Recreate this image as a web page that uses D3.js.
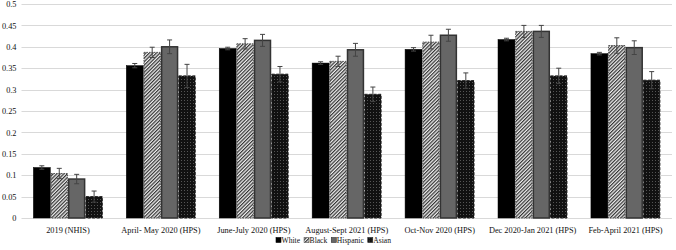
<!DOCTYPE html>
<html><head><meta charset="utf-8">
<script src="https://cdn.jsdelivr.net/npm/d3@7"></script>
<style>body{margin:0;background:#fff}svg{display:block}text{font-family:"Liberation Serif","Times New Roman",serif}</style>
</head><body><svg id="c" width="676" height="250"></svg>
<script>
const categories = ["2019 (NHIS)","April- May 2020 (HPS)","June-July 2020 (HPS)","August-Sept 2021 (HPS)","Oct-Nov 2020 (HPS)","Dec 2020-Jan 2021 (HPS)","Feb-April 2021 (HPS)"];
const seriesNames = ["White","Black","Hispanic","Asian"];
const white    = [0.118,0.356,0.396,0.362,0.394,0.417,0.384];
const black    = [0.104,0.387,0.407,0.366,0.411,0.436,0.403];
const hispanic = [0.091,0.400,0.415,0.393,0.427,0.436,0.398];
const asian    = [0.050,0.332,0.336,0.289,0.321,0.332,0.322];
const whiteErr    = [0.004,0.005,0.003,0.003,0.004,0.003,0.003];
const blackErr    = [0.012,0.012,0.012,0.012,0.016,0.014,0.018];
const hispanicErr = [0.011,0.016,0.014,0.015,0.014,0.014,0.016];
const asianErr    = [0.013,0.027,0.018,0.017,0.018,0.018,0.020];
const yTicks = [0,0.05,0.1,0.15,0.2,0.25,0.3,0.35,0.4,0.45,0.5];

const values = [white,black,hispanic,asian];
const errs = [whiteErr,blackErr,hispanicErr,asianErr];

const svg = d3.select("#c");
const defs = svg.append("defs");
const ph = defs.append("pattern").attr("id","hatch").attr("patternUnits","userSpaceOnUse").attr("width",2.5).attr("height",2.5).attr("patternTransform","rotate(45)");
ph.append("rect").attr("width",2.5).attr("height",2.5).attr("fill","#eee");
ph.append("rect").attr("width",1.2).attr("height",2.5).attr("fill","#333");
const pa = defs.append("pattern").attr("id","dots").attr("patternUnits","userSpaceOnUse").attr("width",3).attr("height",3);
pa.append("rect").attr("width",3).attr("height",3).attr("fill","#111");
pa.append("rect").attr("x",1).attr("y",1).attr("width",1).attr("height",1).attr("fill","#555");

const fills = ["#000","url(#hatch)","#666","url(#dots)"];
const strokes = ["#000","#555","#333","#222"];
const dashes = [null,"1.5,1",null,"3,1.5"];
const sw = [0.5,1,1.5,1];

const x = d3.scaleBand().domain(categories).range([21.5,672]).paddingInner(0.25).paddingOuter(0.125);
const xs = d3.scaleBand().domain(seriesNames).range([0,x.bandwidth()]);
const y = d3.scaleLinear().domain([0,0.5]).range([218,4]);

svg.append("g").selectAll("line").data(yTicks).join("line")
  .attr("x1",21.5).attr("x2",672).attr("y1",d=>Math.round(y(d))+0.5).attr("y2",d=>Math.round(y(d))+0.5)
  .attr("stroke","#d9d9d9").attr("stroke-width",1);

const ya = svg.append("g").attr("transform","translate(16.5,0)")
  .call(d3.axisLeft(y).tickValues(yTicks).tickSize(0).tickPadding(0).tickFormat(d=>String(+d.toFixed(2))));
ya.select(".domain").remove();
ya.selectAll("text").attr("font-size",8.3).attr("fill","#111").attr("text-anchor","end");

const xa = svg.append("g").attr("transform","translate(0,218)").call(d3.axisBottom(x).tickSize(0).tickPadding(9));
xa.select(".domain").remove();
xa.selectAll("text").attr("font-size",8.3).attr("fill","#111");

seriesNames.forEach((s,si)=>{
  svg.append("g").selectAll("rect").data(categories).join("rect")
    .attr("x",c=>x(c)+xs(s)+sw[si]/2)
    .attr("width",xs.bandwidth()-sw[si])
    .attr("y",(c,i)=>y(values[si][i]))
    .attr("height",(c,i)=>y(0)-y(values[si][i]))
    .attr("fill",fills[si]).attr("stroke",strokes[si]).attr("stroke-width",sw[si])
    .attr("stroke-dasharray",dashes[si]);
});
seriesNames.forEach((s,si)=>{
  const g = svg.append("g").attr("stroke","#444").attr("stroke-width",1);
  categories.forEach((c,i)=>{
    const cx = x(c)+xs(s)+xs.bandwidth()/2;
    const v = values[si][i], e = errs[si][i];
    g.append("line").attr("x1",cx).attr("x2",cx).attr("y1",y(v+e)).attr("y2",y(v-e));
    g.append("line").attr("x1",cx-2.5).attr("x2",cx+2.5).attr("y1",y(v+e)).attr("y2",y(v+e));
    g.append("line").attr("x1",cx-2.5).attr("x2",cx+2.5).attr("y1",y(v-e)).attr("y2",y(v-e));
  });
});

const leg = svg.append("g").attr("transform","translate(0,242.5)");
let lx = 276;
seriesNames.forEach((s,si)=>{
  const it = leg.append("g").attr("transform",`translate(${lx},0)`);
  it.append("rect").attr("x",0).attr("y",-5).attr("width",5).attr("height",5)
    .attr("fill",fills[si]).attr("stroke",strokes[si]).attr("stroke-width",0.6);
  const t = it.append("text").attr("x",5.5).attr("y",0).attr("font-size",7.6).attr("fill","#111").text(s);
  lx += 5.5 + t.node().getComputedTextLength() + 4;
});
</script></body></html>
